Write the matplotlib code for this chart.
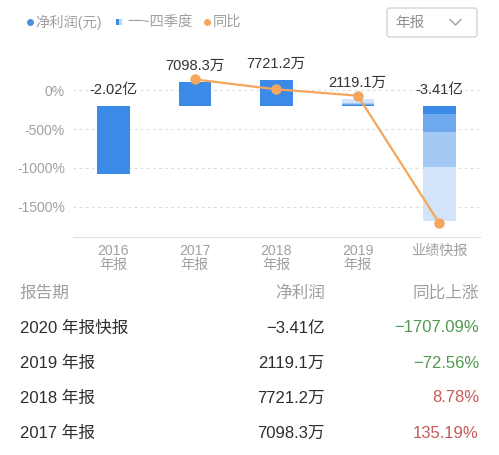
import matplotlib
matplotlib.use('Agg')
import matplotlib.pyplot as plt
import numpy as np
from matplotlib.patches import FancyBboxPatch

plt.rcParams['font.family'] = ['Liberation Sans', 'Noto Sans CJK SC', 'DejaVu Sans']

# chart data
periods = ['2016\n年报', '2017\n年报', '2018\n年报', '2019\n年报', '业绩快报']
profit = [-2.02, 0.70983, 0.77212, 0.21191, -3.41]   # 亿元
profit_labels = ['-2.02亿', '7098.3万', '7721.2万', '2119.1万', '-3.41亿']
yoy = [np.nan, 135.19, 8.78, -72.56, -1707.09]       # %
# cumulative quarterly profit (Q1, H1, Q1-3, full year), only where shown
quarters = {3: [0.02, 0.05, 0.08, 0.21191],
            4: [-0.245, -0.767, -1.80, -3.41]}
yticks = [0, -500, -1000, -1500]
ytick_labels = ['0%', '-500%', '-1000%', '-1500%']

# table data
table_header = ['报告期', '净利润', '同比上涨']
table_period = ['2020 年报快报', '2019 年报', '2018 年报', '2017 年报']
table_profit = ['−3.41亿', '2119.1万', '7721.2万', '7098.3万']
table_yoy = ['−1707.09%', '−72.56%', '8.78%', '135.19%']
table_yoy_val = [-1707.09, -72.56, 8.78, 135.19]

blue = '#3c8ae8'
shades = ['#3c8ae8', '#6ea9ee', '#a3c8f4', '#d2e4f9']
orange = '#f4a65c'
gray = '#a0a0a0'

W, H = 499, 455
fig = plt.figure(figsize=(W / 100, H / 100), dpi=100)

# axes in pixel terms: left 72.7, right 480, top 55, bottom 236.7
ax = fig.add_axes([72.7 / W, 1 - 236.7 / H, (480 - 72.7) / W, (236.7 - 55) / H])
ax2 = ax.twinx()
ax3 = ax.twinx()

x = np.arange(len(periods))
ax.set_xlim(-0.5, 4.5)
ax.set_ylim(-1881, 449)
ax2.set_ylim(-3.864, 1.496)
ax3.set_ylim(-1881, 449)

# grid
for t in yticks:
    ax.axhline(t, color='#dcdcdc', lw=0.8, ls=(0, (2.5, 3)), zorder=0)
ax.set_yticks(yticks)
ax.set_yticklabels(ytick_labels, color=gray, fontsize=10)
ax.tick_params(axis='y', length=0, pad=5.5)
ax.set_xticks(x)
ax.set_xticklabels(periods, color=gray, fontsize=10.2, linespacing=1.0)
ax.tick_params(axis='x', length=0, pad=5.5)
for s in ['top', 'left', 'right']:
    ax.spines[s].set_visible(False)
ax.spines['bottom'].set_color('#dddddd')

# bars
bw = 0.4
for i in range(len(periods)):
    if i in quarters:
        cum = quarters[i]
        for k in range(len(cum) - 1, -1, -1):
            ax2.bar(x[i], cum[k], width=bw, color=shades[k], zorder=2)
    else:
        ax2.bar(x[i], profit[i], width=bw, color=blue, zorder=2)
    top = max(profit[i], 0)
    ax2.annotate(profit_labels[i], (x[i], top), xytext=(0, 11.5),
                 textcoords='offset points', ha='center', va='center',
                 fontsize=10.5, color='#333333')
ax2.axis('off')

# yoy line
ax3.plot(x, yoy, color=orange, lw=1.6, marker='o', ms=6.5, zorder=3)
ax3.axis('off')

# overlay in pixel coordinates for legend, dropdown and table
ov = fig.add_axes([0, 0, 1, 1], zorder=-1)
ov.set_xlim(0, W)
ov.set_ylim(H, 0)
ov.axis('off')

leg_fs = 10.3
ov.plot(30, 22, 'o', color='#4a8fe0', ms=4)
ov.text(35, 22, '净利润(元)', color=gray, fontsize=leg_fs, va='center')
ov.add_patch(plt.Rectangle((116, 19), 3, 6, color='#3c8ae8', lw=0))
ov.add_patch(plt.Rectangle((119, 19), 3, 6, color='#bcd7f6', lw=0))
ov.text(127, 22, '一~四季度', color=gray, fontsize=leg_fs, va='center')
ov.plot(207, 22, 'o', color=orange, ms=4)
ov.text(213, 22, '同比', color=gray, fontsize=leg_fs, va='center')

ov.add_patch(FancyBboxPatch((387, 8), 90, 29, boxstyle='round,pad=0,rounding_size=3',
                            fc='white', ec='#d0d0d0', lw=0.9))
ov.text(395, 22.5, '年报', color='#909090', fontsize=10.5, va='center')
ov.plot([450, 455.5, 461], [19.5, 25, 19.5], color='#a0a0a0', lw=1)

# table
fs_t = 12
ov.text(20, 293, table_header[0], color=gray, fontsize=fs_t, va='center')
ov.text(325, 293, table_header[1], color=gray, fontsize=fs_t, va='center', ha='right')
ov.text(479, 293, table_header[2], color=gray, fontsize=fs_t, va='center', ha='right')
row_y = [328, 363, 398, 433]
for j in range(len(table_period)):
    ov.text(20, row_y[j], table_period[j], color='#2e2e2e', fontsize=fs_t, va='center')
    ov.text(325, row_y[j], table_profit[j], color='#2e2e2e', fontsize=fs_t, va='center', ha='right')
    c = '#4f9a4f' if table_yoy_val[j] < 0 else '#c55a5a'
    ov.text(479, row_y[j], table_yoy[j], color=c, fontsize=fs_t, va='center', ha='right')

fig.savefig('out.png', dpi=100)
